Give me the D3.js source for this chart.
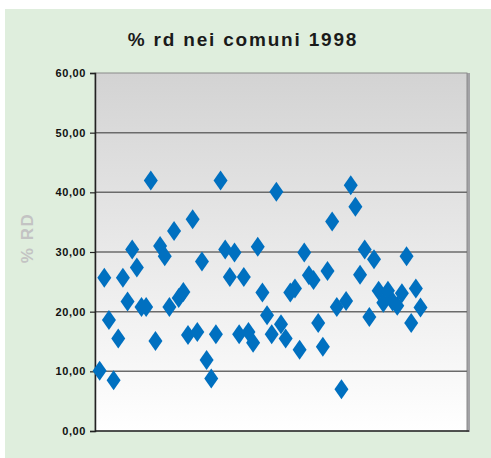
<!DOCTYPE html>
<html>
<head>
<meta charset="utf-8">
<script src="https://cdn.jsdelivr.net/npm/d3@7"></script>
<style>
  body { margin: 0; background: #fff; }
  svg { display: block; }
  text { font-family: "Liberation Sans", Arial, sans-serif; }
</style>
</head>
<body>
<script>
// % RD per comune (one value per comune, in order)
var rdValues = [
    10.1, 25.7, 18.6, 8.5, 15.5, 25.7, 21.7, 30.4, 27.4, 20.8,
    20.8, 42.0, 15.1, 31.0, 29.3, 20.8, 33.5, 22.3, 23.3, 16.1,
    35.5, 16.6, 28.4, 11.9, 8.8, 16.2, 42.0, 30.4, 25.8, 29.9,
    16.2, 25.8, 16.6, 14.8, 30.9, 23.2, 19.4, 16.2, 40.1, 17.9,
    15.5, 23.2, 23.9, 13.6, 29.9, 26.1, 25.3, 18.1, 14.1, 26.8,
    35.1, 20.8, 7.0, 21.8, 41.2, 37.6, 26.2, 30.4, 19.1, 28.8,
    23.5, 21.5, 23.5, 21.7, 21.0, 23.1, 29.3, 18.1, 23.9, 20.7
];
var yTicks = [0, 10, 20, 30, 40, 50, 60];
var chartTitle = "% rd nei comuni 1998";
var yTitle = "% RD";

var W = 491, H = 458;
var plot = {left: 95, top: 73, right: 467, bottom: 431};

var svg = d3.select("body").append("svg")
    .attr("width", W)
    .attr("height", H);

// green background panel
svg.append("rect")
    .attr("x", 5).attr("y", 9)
    .attr("width", W - 5).attr("height", H - 9)
    .attr("fill", "#dfeedd");

var defs = svg.append("defs");
var grad = defs.append("linearGradient")
    .attr("id", "plotGrad")
    .attr("x1", 0).attr("y1", 0).attr("x2", 0).attr("y2", 1);
grad.append("stop").attr("offset", "0%").attr("stop-color", "#d3d3d3");
grad.append("stop").attr("offset", "100%").attr("stop-color", "#ffffff");

// scales
var x = d3.scaleLinear().domain([0, 80]).range([plot.left, plot.right]);
var y = d3.scaleLinear().domain([0, 60]).range([plot.bottom, plot.top]);

// plot area with right shadow
svg.append("rect")
    .attr("x", plot.right - 1).attr("y", plot.top)
    .attr("width", 4).attr("height", plot.bottom - plot.top + 1)
    .attr("fill", "#a3a3a6");
svg.append("rect")
    .attr("x", plot.left).attr("y", plot.top)
    .attr("width", plot.right - plot.left).attr("height", plot.bottom - plot.top)
    .attr("fill", "url(#plotGrad)")
    .attr("stroke", "#8a8a8a")
    .attr("stroke-width", 1);

// gridlines
svg.append("g")
    .selectAll("line")
    .data(yTicks.filter(function(d) { return d > 0 && d < 60; }))
    .enter().append("line")
        .attr("x1", plot.left).attr("x2", plot.right)
        .attr("y1", function(d) { return y(d); })
        .attr("y2", function(d) { return y(d); })
        .attr("stroke", "#6b6b6b")
        .attr("stroke-width", 1.5);

// bottom line
svg.append("line")
    .attr("x1", plot.left).attr("x2", plot.right + 2)
    .attr("y1", plot.bottom).attr("y2", plot.bottom)
    .attr("stroke", "#2a2a2a")
    .attr("stroke-width", 1.5);

// y axis
var yAxis = d3.axisLeft(y)
    .tickValues(yTicks)
    .tickSize(5)
    .tickPadding(4)
    .tickFormat(function(d) { return d3.format(".2f")(d).replace(".", ","); });

var yG = svg.append("g")
    .attr("transform", "translate(" + plot.left + ",0)")
    .call(yAxis);
yG.select(".domain").attr("stroke", "#222").attr("stroke-width", 1.5);
yG.selectAll(".tick line").attr("stroke", "#222").attr("stroke-width", 1.2);
yG.selectAll(".tick text")
    .attr("fill", "#111")
    .style("font-size", "11px")
    .style("font-weight", "bold")
    .style("letter-spacing", "0.6px")
    .style("font-family", "'Liberation Sans', Arial, sans-serif");

// diamonds
svg.append("g")
    .selectAll("path")
    .data(rdValues)
    .enter().append("path")
        .attr("d", "M0,-10L7,0L0,10L-7,0Z")
        .attr("transform", function(d, i) { return "translate(" + x(i + 1) + "," + y(d) + ")"; })
        .attr("fill", "#0070c0");

// title
svg.append("text")
    .attr("x", 243).attr("y", 46)
    .attr("text-anchor", "middle")
    .attr("font-size", 19)
    .attr("font-weight", "bold")
    .style("letter-spacing", "1.8px")
    .attr("fill", "#1a1a1a")
    .text(chartTitle);

// y axis title
svg.append("text")
    .attr("transform", "translate(33,238) rotate(-90)")
    .attr("text-anchor", "middle")
    .attr("font-size", 17)
    .attr("font-weight", "bold")
    .style("letter-spacing", "1.5px")
    .attr("fill", "#c3c3c3")
    .text(yTitle);
</script>
</body>
</html>
